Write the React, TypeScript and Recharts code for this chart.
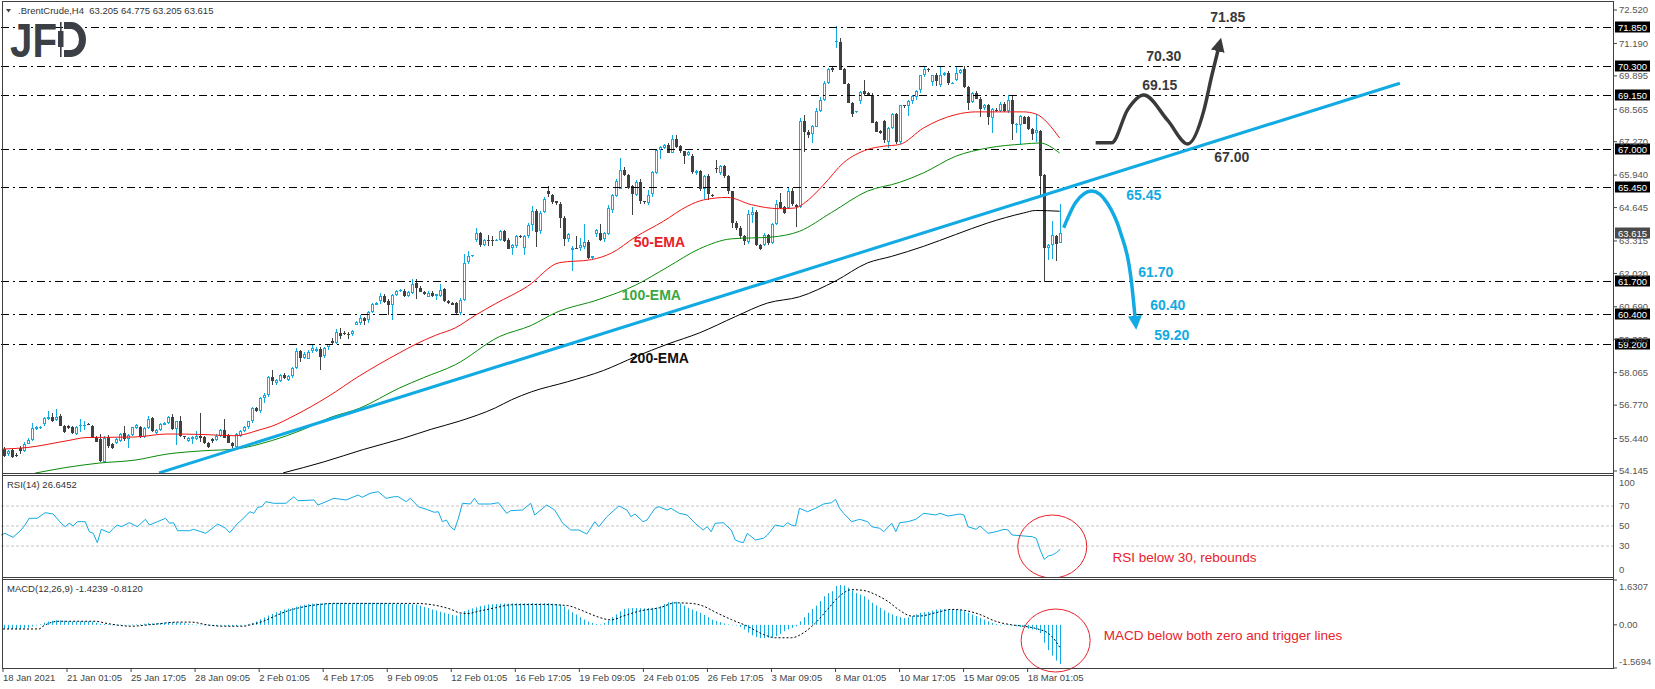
import React from "react";
import { ComposedChart, Bar, Line, XAxis, YAxis, ReferenceLine, ReferenceDot } from "recharts";

const FONT = "Tahoma, 'Liberation Sans', Arial, sans-serif";
const CYAN = "#12aae2";
const DARK = "#404040";
const ARROW_DARK = "#3a3a3a";

// ---- candles (H4 bars, 18 Jan 2021 09:05 .. 19 Mar 2021 09:05) ----
const opens = [
  55.02, 54.85, 54.98, 54.80, 55.08, 54.95, 55.24, 55.38, 55.82, 55.83,
  56.01, 56.25, 56.31, 56.21, 56.35, 55.94, 55.94, 55.88, 55.64, 55.94,
  55.97, 56.02, 55.94, 55.51, 55.42, 54.53, 55.51, 55.22, 55.28, 55.35,
  55.64, 55.42, 55.58, 55.86, 55.91, 55.51, 55.86, 56.25, 55.68, 55.79,
  56.01, 56.07, 56.31, 55.82, 56.12, 55.52, 55.35, 55.42, 55.42, 55.55,
  55.51, 55.28, 55.44, 55.38, 55.55, 55.79, 55.58, 55.28, 55.11, 55.55,
  55.72, 55.88, 56.12, 56.65, 56.52, 57.05, 57.18, 57.89, 57.66, 57.75,
  57.99, 57.79, 57.93, 58.26, 58.92, 58.66, 58.63, 58.90, 58.94, 59.02,
  58.71, 59.06, 59.32, 59.26, 59.64, 59.64, 59.62, 59.59, 59.99, 60.05,
  60.25, 60.15, 60.48, 60.78, 60.92, 61.12, 60.92, 60.76, 61.16, 61.31,
  61.31, 61.12, 61.25, 61.65, 61.45, 61.29, 61.08, 61.25, 61.12, 61.12,
  61.38, 60.92, 60.85, 60.85, 60.45, 60.98, 62.48, 62.72, 63.37, 63.64,
  63.17, 63.37, 63.37, 63.35, 63.37, 63.71, 63.37, 63.02, 63.11, 63.51,
  63.04, 63.51, 63.96, 64.52, 63.70, 64.47, 65.29, 65.16, 64.89, 64.80,
  64.23, 63.39, 62.97, 63.05, 63.01, 63.06, 63.26, 62.63, 63.59, 63.63,
  63.37, 63.59, 64.52, 65.13, 65.42, 66.16, 65.96, 65.49, 65.16, 65.66,
  64.89, 64.85, 65.16, 66.05, 66.95, 67.05, 67.15, 66.85, 67.39, 67.09,
  66.89, 66.75, 66.69, 66.02, 66.09, 65.36, 65.89, 65.16, 66.22, 66.02,
  66.29, 65.89, 65.29, 64.03, 63.83, 63.50, 63.30, 64.36, 64.47, 63.17,
  63.17, 63.56, 63.23, 63.99, 64.85, 64.67, 64.63, 65.29, 64.76, 64.69,
  68.11, 67.66, 67.58, 67.89, 68.51, 68.95, 69.61, 70.19, 71.25, 71.25,
  70.15, 69.57, 68.82, 68.45, 68.88, 69.28, 69.22, 69.15, 68.05, 67.69,
  68.09, 67.26, 67.82, 68.38, 67.26, 68.72, 68.68, 68.88, 69.08, 69.31,
  69.92, 70.15, 69.65, 69.92, 69.55, 69.92, 70.01, 69.61, 69.75, 70.01,
  70.15, 69.44, 68.88, 69.22, 68.99, 68.59, 68.72, 68.25, 68.55, 68.51,
  68.78, 68.51, 68.95, 67.95, 67.95, 68.25, 68.25, 67.79, 67.65, 67.69,
  65.93, 63.01, 63.14, 63.50, 63.205,
];
const highs = [
  55.10, 55.00, 55.02, 54.85, 55.15, 55.30, 55.45, 56.05, 55.92, 55.92,
  56.30, 56.55, 56.45, 56.61, 56.40, 55.98, 55.98, 55.92, 55.95, 56.20,
  56.15, 56.04, 55.98, 55.55, 55.60, 55.55, 55.58, 55.25, 55.45, 55.66,
  55.95, 55.62, 55.90, 56.02, 55.95, 55.90, 56.32, 56.28, 55.82, 56.05,
  56.10, 56.35, 56.40, 56.15, 56.32, 55.55, 55.50, 55.55, 55.75, 56.44,
  55.55, 55.32, 55.48, 55.62, 55.82, 56.21, 55.62, 55.32, 55.65, 55.78,
  55.92, 56.15, 56.70, 56.68, 57.10, 57.25, 57.95, 58.19, 57.82, 58.00,
  58.05, 57.97, 58.30, 59.05, 58.98, 58.88, 58.95, 59.15, 59.10, 59.10,
  59.10, 59.22, 59.45, 59.80, 59.85, 59.72, 59.68, 59.78, 60.12, 60.35,
  60.30, 60.52, 60.85, 60.88, 61.25, 61.20, 61.02, 61.20, 61.35, 61.40,
  61.38, 61.30, 61.78, 61.78, 61.50, 61.32, 61.30, 61.30, 61.22, 61.58,
  61.42, 60.96, 60.88, 60.90, 61.05, 62.78, 62.90, 62.76, 63.84, 63.68,
  63.40, 63.55, 63.50, 63.40, 63.75, 63.74, 63.42, 63.20, 63.55, 63.55,
  63.55, 64.05, 64.70, 64.60, 64.50, 65.05, 65.52, 65.20, 64.92, 64.85,
  64.30, 63.65, 63.10, 63.50, 63.45, 63.99, 63.35, 62.72, 63.80, 63.99,
  63.68, 64.76, 65.20, 65.80, 66.62, 66.25, 66.00, 65.55, 65.75, 65.80,
  64.92, 65.35, 66.10, 67.00, 67.10, 67.18, 67.20, 67.52, 67.55, 67.12,
  66.92, 66.90, 66.80, 66.16, 66.15, 65.95, 66.00, 65.20, 66.55, 66.35,
  66.35, 65.95, 65.32, 64.10, 63.90, 63.55, 64.55, 64.65, 64.55, 63.20,
  63.62, 63.60, 64.05, 64.95, 65.23, 64.70, 65.42, 65.42, 64.80, 68.20,
  68.35, 67.72, 67.95, 68.60, 69.05, 69.70, 70.20, 70.25, 71.87, 71.41,
  70.20, 69.60, 68.85, 68.50, 69.30, 69.75, 69.25, 69.20, 68.10, 67.72,
  68.15, 67.85, 68.40, 68.42, 68.75, 68.75, 68.92, 69.15, 69.35, 69.95,
  70.25, 70.20, 69.95, 70.00, 70.28, 70.05, 70.10, 69.65, 70.28, 70.15,
  70.28, 69.50, 69.25, 69.28, 69.05, 68.78, 68.78, 68.62, 68.62, 68.85,
  68.85, 69.15, 69.10, 68.02, 68.35, 68.28, 68.30, 67.82, 68.38, 67.75,
  66.00, 63.20, 64.10, 63.55, 64.775,
];
const lows = [
  54.70, 54.75, 54.68, 54.68, 54.85, 54.90, 55.20, 55.35, 55.78, 55.80,
  55.95, 56.20, 56.08, 56.15, 55.92, 55.68, 55.82, 55.60, 55.60, 55.68,
  55.78, 55.97, 55.45, 55.30, 54.50, 54.48, 55.08, 55.00, 55.22, 55.30,
  55.35, 55.08, 55.55, 55.82, 55.48, 55.45, 55.82, 55.70, 55.62, 55.75,
  55.98, 56.02, 55.78, 55.18, 55.48, 55.45, 55.30, 55.22, 55.40, 55.28,
  55.25, 55.08, 55.30, 55.35, 55.50, 55.45, 55.25, 55.10, 55.05, 55.50,
  55.68, 55.85, 56.05, 56.48, 56.45, 56.85, 57.10, 57.59, 57.60, 57.70,
  57.80, 57.75, 57.88, 58.22, 58.50, 58.62, 58.58, 58.85, 58.90, 58.19,
  58.68, 59.00, 59.22, 59.19, 59.40, 59.55, 59.40, 59.55, 59.95, 59.95,
  59.98, 60.05, 60.45, 60.76, 60.80, 60.85, 60.40, 60.15, 61.10, 61.28,
  61.05, 61.08, 61.20, 61.00, 61.25, 61.18, 61.05, 61.08, 60.98, 61.08,
  60.85, 60.82, 60.75, 60.40, 60.38, 60.92, 62.40, 62.70, 63.30, 63.10,
  63.12, 63.10, 63.12, 63.33, 63.33, 63.28, 63.00, 62.77, 63.05, 63.45,
  62.77, 63.45, 63.70, 63.10, 63.60, 64.40, 65.10, 64.80, 64.75, 63.83,
  63.10, 63.30, 62.10, 63.00, 62.95, 63.00, 62.60, 62.60, 63.50, 63.30,
  63.30, 63.55, 64.45, 65.10, 65.38, 65.90, 65.40, 64.36, 65.10, 64.80,
  64.80, 64.75, 65.05, 66.00, 66.60, 67.00, 66.80, 66.80, 67.05, 66.80,
  66.40, 66.70, 66.02, 65.95, 65.30, 65.00, 64.96, 65.10, 66.02, 65.95,
  65.85, 65.20, 63.85, 63.75, 63.40, 63.17, 63.20, 64.00, 63.10, 62.95,
  63.10, 63.15, 63.20, 63.95, 64.60, 64.38, 64.58, 64.72, 63.90, 64.62,
  66.89, 67.40, 67.22, 67.85, 68.45, 68.90, 69.55, 70.05, 71.01, 70.15,
  69.55, 68.80, 68.25, 68.44, 68.80, 69.10, 69.10, 68.05, 67.66, 67.55,
  67.25, 67.02, 67.78, 67.20, 67.20, 68.62, 68.30, 68.80, 68.95, 69.25,
  69.85, 70.05, 69.50, 69.50, 69.45, 69.88, 69.55, 69.58, 69.70, 69.95,
  69.40, 68.55, 68.80, 68.95, 68.25, 68.55, 67.95, 67.62, 68.45, 68.45,
  68.45, 68.45, 67.35, 67.62, 67.15, 67.95, 67.75, 67.35, 67.25, 65.16,
  61.70, 62.57, 62.60, 62.50, 63.205,
];
const closes = [
  54.75, 54.95, 54.71, 54.75, 54.98, 55.24, 55.38, 55.86, 55.88, 55.88,
  56.25, 56.31, 56.17, 56.31, 55.94, 55.72, 55.88, 55.64, 55.91, 55.99,
  55.99, 55.99, 55.48, 55.32, 54.55, 55.48, 55.15, 55.08, 55.42, 55.62,
  55.42, 55.58, 55.88, 55.99, 55.51, 55.86, 56.21, 55.75, 55.79, 56.01,
  56.07, 56.31, 55.82, 56.12, 55.52, 55.48, 55.48, 55.51, 55.55, 55.48,
  55.28, 55.12, 55.38, 55.55, 55.79, 55.48, 55.28, 55.15, 55.62, 55.75,
  55.88, 56.12, 56.65, 56.52, 57.05, 57.18, 57.90, 57.75, 57.79, 57.97,
  57.86, 57.93, 58.26, 58.92, 58.66, 58.82, 58.90, 59.03, 59.02, 58.71,
  59.03, 59.19, 59.26, 59.68, 59.52, 59.59, 59.59, 59.72, 60.09, 60.25,
  60.12, 60.48, 60.81, 60.85, 61.12, 60.89, 60.76, 61.16, 61.31, 61.35,
  61.12, 61.27, 61.61, 61.45, 61.29, 61.21, 61.25, 61.12, 61.21, 61.34,
  60.92, 60.85, 60.78, 60.45, 60.98, 62.44, 62.71, 62.74, 63.64, 63.17,
  63.35, 63.35, 63.35, 63.37, 63.71, 63.31, 63.02, 63.15, 63.51, 63.49,
  63.51, 63.95, 64.52, 63.70, 64.43, 64.99, 65.16, 64.87, 64.80, 64.23,
  63.41, 63.60, 63.03, 63.03, 63.14, 63.26, 62.63, 62.70, 63.74, 63.37,
  63.62, 64.63, 65.13, 65.72, 66.16, 65.96, 65.45, 65.16, 65.66, 64.89,
  64.87, 65.16, 66.05, 66.95, 67.05, 67.15, 66.85, 67.39, 67.09, 66.89,
  66.69, 66.85, 66.06, 66.09, 65.36, 65.89, 65.16, 65.13, 66.18, 66.29,
  65.89, 65.29, 64.03, 63.83, 63.50, 63.30, 64.40, 64.47, 63.17, 63.03,
  63.56, 63.23, 63.99, 64.79, 64.63, 64.43, 65.29, 64.79, 64.69, 68.11,
  67.69, 67.55, 67.89, 68.51, 68.95, 69.61, 70.15, 70.11, 71.27, 70.15,
  69.57, 68.82, 68.38, 68.48, 69.24, 69.15, 69.12, 68.05, 67.66, 67.61,
  67.32, 67.82, 68.38, 67.26, 68.72, 68.68, 68.88, 69.08, 69.31, 69.92,
  70.15, 70.11, 69.92, 69.68, 69.95, 70.01, 69.61, 69.62, 70.01, 70.11,
  69.44, 68.82, 69.22, 68.99, 68.59, 68.72, 68.25, 68.59, 68.51, 68.78,
  68.51, 68.95, 67.98, 67.98, 68.29, 67.98, 67.79, 67.58, 67.75, 65.89,
  63.01, 63.14, 63.54, 63.20, 63.615,
];

// moving averages, read at points along each curve [bar, price]
const ema50Pts = [
  [0, 55.02], [6, 55.08], [16, 55.35], [21, 55.48], [33, 55.5], [41, 55.62], [50, 55.6], [58, 55.55],
  [62, 55.68], [64, 55.78], [67, 55.92], [73, 56.37], [81, 57.09], [89, 57.93], [99, 58.85], [103, 59.19],
  [108, 59.55], [113, 59.85], [118, 60.35], [123, 60.81], [131, 61.5], [139, 62.45], [147, 62.57],
  [152, 62.83], [158, 63.47], [165, 64.1], [171, 64.7], [175, 64.95], [181, 65.05], [187, 64.76],
  [194, 64.6], [198, 64.63], [200, 64.8], [205, 65.55], [210, 66.43], [216, 66.96], [220, 67.09],
  [224, 67.16], [230, 67.82], [238, 68.35], [243, 68.46], [255, 68.46], [258, 68.38], [264, 67.42],
];
const ema100Pts = [
  [8, 54.06], [16, 54.29], [24, 54.46], [33, 54.58], [41, 54.82], [50, 54.95], [58, 55.02], [67, 55.35],
  [75, 55.8], [82, 56.29], [89, 56.64], [99, 57.45], [105, 57.86], [113, 58.38], [124, 59.5], [132, 59.95],
  [138, 60.45], [149, 60.99], [158, 61.55], [166, 62.27], [174, 63.0], [182, 63.4], [192, 63.47],
  [199, 63.7], [207, 64.45], [216, 65.3], [224, 65.65], [230, 66.03], [238, 66.69], [246, 67.02],
  [255, 67.18], [259, 67.22], [264, 66.82],
];
const ema200Pts = [
  [70, 54.07], [80, 54.5], [90, 55.0], [100, 55.45], [107, 55.81], [114, 56.13], [123, 56.66], [127, 56.98],
  [132, 57.3], [141, 57.7], [150, 58.15], [158, 58.7], [166, 59.2], [174, 59.65], [183, 60.3], [191, 60.84],
  [199, 61.09], [208, 61.72], [216, 62.44], [222, 62.7], [230, 63.1], [238, 63.57], [246, 64.03],
  [255, 64.43], [258, 64.53], [264, 64.5],
];
const trendPts = [[39, 54.07], [349, 69.6]];
const bullPathPts = [[273, 67.23], [277, 67.23], [281, 68.55], [285, 69.13], [291, 68.12], [296, 67.18], [300, 68.5], [302, 69.9], [304, 71.2]];
const bearPathPts = [[265, 63.84], [268, 64.85], [272, 65.31], [276, 64.8], [279, 63.75], [282, 61.6], [283, 60.0]];

const levels = [71.85, 70.3, 69.15, 67.0, 65.45, 61.7, 60.4, 59.2];
const lastPrice = 63.615;
const priceTicks = [72.52, 71.19, 69.895, 68.565, 67.27, 65.94, 64.645, 63.315, 62.02, 60.69, 59.395, 58.065, 56.77, 55.44, 54.145];

// RSI(14) [bar, value]
const rsiPts = [
  [0, 41], [1, 42.7], [3, 38.7], [5, 46], [6, 51], [7, 57.7], [9, 57.7], [11, 63.3], [13, 62], [15, 52.7],
  [16, 49.3], [17, 52.7], [18, 50], [19, 54.3], [21, 54.3], [22, 44.3], [23, 42.7], [24, 33.3], [25, 46.7],
  [27, 43.3], [28, 47.7], [29, 51], [30, 49.3], [32, 53.3], [34, 49.3], [36, 56.7], [37, 51], [39, 54.3],
  [41, 57.7], [42, 52.7], [43, 53.3], [44, 45.3], [47, 45.3], [48, 46.7], [51, 42.7], [53, 48.7], [54, 52],
  [56, 47.7], [57, 43.3], [59, 52.7], [60, 56], [62, 64.3], [63, 62.7], [64, 68.7], [65, 69.3], [66, 74.3],
  [68, 72.7], [71, 72.7], [73, 79.3], [74, 75.3], [78, 76], [79, 71], [81, 74.3], [83, 77.7], [86, 76],
  [89, 81], [90, 78.7], [92, 82.7], [94, 84.3], [96, 77.7], [98, 79.3], [99, 79.3], [101, 74.3], [102, 77.7],
  [104, 69.3], [106, 66.7], [108, 63.7], [109, 64.3], [110, 54.3], [111, 56], [112, 49.3], [113, 46],
  [114, 57.7], [115, 72.7], [117, 72], [118, 77.7], [119, 72], [122, 72], [124, 73.3], [126, 62.7],
  [127, 65.3], [130, 66], [132, 72.7], [133, 61], [136, 71], [138, 66], [140, 52.7], [142, 46], [144, 46],
  [146, 42], [148, 54.3], [149, 49.3], [151, 59.3], [154, 70], [156, 66], [157, 59.3], [158, 62], [160, 54.3],
  [161, 56], [163, 67.7], [164, 69.3], [166, 66], [167, 67.7], [169, 62.7], [171, 61], [173, 52.7], [175, 46],
  [176, 49.3], [177, 44.3], [178, 52.7], [180, 53.3], [182, 46], [183, 36], [184, 34.3], [185, 33.3],
  [186, 42.7], [188, 36], [190, 37.7], [191, 41], [193, 51], [195, 49.3], [196, 53.3], [197, 51], [198, 50],
  [199, 67.7], [201, 64.3], [203, 67.7], [205, 72], [207, 73.3], [208, 76.7], [209, 67.7], [210, 62.7],
  [212, 54.3], [214, 56.7], [216, 54.3], [217, 49.3], [219, 47.7], [220, 44.3], [222, 52.7], [223, 44.3],
  [224, 53.3], [226, 54.3], [228, 56.7], [230, 62.7], [233, 61], [234, 62.7], [236, 60], [239, 62], [240, 61],
  [241, 49.3], [243, 46.7], [244, 50], [246, 42.7], [248, 44.3], [250, 46.7], [251, 46], [252, 41], [255, 40],
  [257, 39.3], [258, 37.7], [259, 26], [260, 16.7], [261, 20], [262, 21], [263, 23.3], [264, 26.6452],
];

// MACD(12,26,9) main line (histogram) per bar
const macdHist = [
  -0.14, -0.15, -0.15, -0.16, -0.14, -0.12, -0.10, -0.06, -0.02, 0.02,
  0.08, 0.12, 0.15, 0.17, 0.16, 0.15, 0.13, 0.12, 0.12, 0.13,
  0.13, 0.13, 0.11, 0.08, 0.04, 0.03, 0.02, 0.00, 0.00, 0.01,
  0.00, 0.00, 0.01, 0.02, 0.02, 0.04, 0.06, 0.05, 0.06, 0.07,
  0.08, 0.10, 0.09, 0.09, 0.08, 0.06, 0.04, 0.02, 0.00, -0.01,
  -0.02, -0.03, -0.04, -0.04, -0.03, -0.03, -0.04, -0.05, -0.04, -0.02,
  0.00, 0.03, 0.07, 0.12, 0.20, 0.27, 0.34, 0.40, 0.46, 0.51,
  0.56, 0.59, 0.62, 0.66, 0.70, 0.73, 0.76, 0.77, 0.78, 0.78,
  0.79, 0.79, 0.79, 0.80, 0.80, 0.80, 0.79, 0.79, 0.80, 0.80,
  0.80, 0.80, 0.80, 0.80, 0.80, 0.79, 0.78, 0.78, 0.77, 0.77,
  0.76, 0.76, 0.75, 0.74, 0.70, 0.65, 0.61, 0.56, 0.52, 0.48,
  0.44, 0.40, 0.36, 0.34, 0.40, 0.50, 0.55, 0.60, 0.64, 0.68,
  0.71, 0.74, 0.75, 0.76, 0.77, 0.77, 0.77, 0.78, 0.78, 0.78,
  0.78, 0.78, 0.79, 0.78, 0.78, 0.79, 0.79, 0.77, 0.76, 0.74,
  0.66, 0.56, 0.46, 0.38, 0.28, 0.19, 0.12, 0.07, 0.03, 0.01,
  0.07, 0.16, 0.28, 0.38, 0.49, 0.58, 0.60, 0.61, 0.61, 0.60,
  0.60, 0.61, 0.62, 0.63, 0.68, 0.75, 0.82, 0.84, 0.84, 0.78,
  0.70, 0.62, 0.56, 0.50, 0.44, 0.36, 0.28, 0.19, 0.14, 0.10,
  0.05, 0.02, 0.00, -0.02, -0.08, -0.17, -0.28, -0.38, -0.45, -0.48,
  -0.48, -0.47, -0.45, -0.41, -0.33, -0.23, -0.17, -0.11, -0.05, 0.13,
  0.28, 0.44, 0.58, 0.70, 0.87, 1.04, 1.15, 1.22, 1.41, 1.45,
  1.43, 1.35, 1.25, 1.16, 1.10, 1.04, 0.92, 0.80, 0.71, 0.62,
  0.53, 0.44, 0.38, 0.32, 0.28, 0.25, 0.27, 0.32, 0.38, 0.44,
  0.46, 0.47, 0.52, 0.56, 0.57, 0.57, 0.56, 0.56, 0.56, 0.55,
  0.50, 0.44, 0.38, 0.32, 0.25, 0.19, 0.13, 0.07, 0.03, 0.00,
  0.01, 0.01, -0.02, -0.05, -0.08, -0.11, -0.14, -0.17, -0.19, -0.30,
  -0.65, -0.92, -1.12, -1.30, -1.4239,
];
// signal line [bar, value]
const signalPts = [
  [0, -0.15], [9, -0.15], [10, -0.05], [14, 0.13], [23, 0.13], [26, 0.05], [32, -0.05], [37, 0.01], [44, 0.1],
  [47, 0.1], [51, 0], [55, -0.05], [60, -0.05], [62, 0.01], [65, 0.13], [68, 0.32], [71, 0.5], [74, 0.62],
  [79, 0.74], [83, 0.78], [103, 0.78], [109, 0.68], [112, 0.56], [114, 0.44], [116, 0.41], [119, 0.5],
  [123, 0.62], [127, 0.73], [135, 0.74], [141, 0.7], [144, 0.56], [147, 0.38], [149, 0.27], [152, 0.18],
  [155, 0.32], [159, 0.5], [164, 0.62], [168, 0.8], [172, 0.78], [175, 0.68], [178, 0.46], [182, 0.19],
  [186, -0.05], [190, -0.35], [193, -0.47], [197, -0.47], [200, -0.29], [203, 0.07], [206, 0.56], [209, 1.04],
  [212, 1.28], [215, 1.25], [218, 1.1], [221, 0.86], [224, 0.53], [227, 0.32], [229, 0.32], [233, 0.44],
  [237, 0.56], [240, 0.53], [244, 0.38], [248, 0.13], [252, 0.0], [255, -0.05], [259, -0.17], [261, -0.29],
  [263, -0.59], [264, -0.812],
];

const timeLabels = [
  "18 Jan 2021", "21 Jan 01:05", "25 Jan 17:05", "28 Jan 09:05", "2 Feb 01:05", "4 Feb 17:05",
  "9 Feb 09:05", "12 Feb 01:05", "16 Feb 17:05", "19 Feb 09:05", "24 Feb 01:05", "26 Feb 17:05",
  "3 Mar 09:05", "8 Mar 01:05", "10 Mar 17:05", "15 Mar 09:05", "18 Mar 01:05",
];
const BARS_PER_LABEL = 16;
const SLOTS = 403; // visible bar slots incl. empty right-hand space

type Row = { i: number; [k: string]: any };
const rows: Row[] = [];
for (let i = 0; i < SLOTS; i++) rows.push({ i });
closes.forEach((c, i) => {
  const r = rows[i];
  r.o = opens[i];
  r.h = highs[i];
  r.l = lows[i];
  r.c = c;
  r.hl = [lows[i], highs[i]];
  r.macd = macdHist[i];
});
const place = (pts: number[][], key: string) => pts.forEach(([i, v]) => { rows[i][key] = v; });
place(ema50Pts, "ema50");
place(ema100Pts, "ema100");
place(ema200Pts, "ema200");
place(trendPts, "trend");
place(bullPathPts, "bullPath");
place(bearPathPts, "bearPath");
place(rsiPts, "rsi");
place(signalPts, "signal");

const tickIdx = timeLabels.map((_, k) => k * BARS_PER_LABEL);

function Candle(props: any) {
  const { x, y, width, height, payload } = props;
  if (!payload || payload.c == null || !isFinite(y) || !isFinite(height)) return <g />;
  const top = Math.min(y, y + height);
  const span = Math.abs(height);
  const k = payload.h > payload.l ? span / (payload.h - payload.l) : 0;
  const c = Math.round(x + width / 2);
  const yO = top + (payload.h - payload.o) * k;
  const yC = top + (payload.h - payload.c) * k;
  const bull = payload.c >= payload.o;
  const color = bull ? CYAN : DARK;
  const bt = Math.round(Math.min(yO, yC));
  const bh = Math.max(1, Math.round(Math.abs(yC - yO)));
  return (
    <g>
      <rect x={c} y={Math.round(top)} width={1} height={Math.max(1, Math.round(span))} fill={color} />
      {bull && bh > 2 ? (
        <rect x={c - 0.5} y={bt + 0.5} width={2} height={bh - 1} fill="#fff" stroke={color} strokeWidth={1} />
      ) : (
        <rect x={c - 1} y={bt} width={3} height={bh} fill={color} />
      )}
    </g>
  );
}

function HistBar(props: any) {
  const { x, y, width, height } = props;
  if (!isFinite(y) || !isFinite(height)) return <g />;
  const c = Math.round(x + width / 2);
  return <rect x={c} y={Math.min(y, y + height)} width={1} height={Math.max(0.5, Math.abs(height))} fill={CYAN} />;
}

function LevelLine(props: any) {
  const { x1, x2, y1, tag, bg, showLine } = props;
  if (x1 == null || y1 == null) return <g />;
  const y = Math.round(y1) + 0.5;
  const left = Math.min(x1, x2);
  const right = Math.max(x1, x2);
  return (
    <g>
      {showLine && <line x1={left} x2={right} y1={y} y2={y} stroke="#000" strokeWidth={1} strokeDasharray="8 4 2 4" />}
      <rect x={right + 1} y={y - 6} width={35} height={11} fill={bg} />
      <text x={right + 4} y={y + 3.5} fill="#fff" fontSize={9.5} fontFamily={FONT}>{tag}</text>
    </g>
  );
}

function RightTick(props: any) {
  const { x, y, payload, fmt, shift } = props;
  const v = payload.value;
  const dy = shift ? shift(v) : 0;
  return (
    <text x={x} y={y + dy} dy="0.35em" fontSize={9.5} fill="#555" fontFamily={FONT} textAnchor="start">
      {fmt(v)}
    </text>
  );
}

function TimeTick(props: any) {
  const { x, y, payload } = props;
  const k = tickIdx.indexOf(payload.value);
  return (
    <text x={x} y={y} dy="0.71em" fontSize={9.5} fill="#444" fontFamily={FONT} textAnchor="start">
      {k >= 0 ? timeLabels[k] : ""}
    </text>
  );
}

const annText = (text: string, color: string, size: number, weight: number, anchor = "middle") =>
  (p: any) => (
    <text x={p.cx} y={p.cy} dy="0.35em" textAnchor={anchor} fill={color} fontSize={size} fontWeight={weight} fontFamily={FONT}>
      {text}
    </text>
  );

const ellipse = (p: any) => <ellipse cx={p.cx} cy={p.cy} rx={34.5} ry={31.5} fill="none" stroke="#e8222a" strokeWidth={1} />;

const frame = "#3f3f3f";
const hLine = (top: number) => (
  <div style={{ position: "absolute", left: 2, top, width: 1612, height: 1, background: frame }} />
);

export default function App() {
  return (
    <div style={{ position: "absolute", left: 0, top: 0, width: 1655, height: 689, background: "#fff", overflow: "hidden", fontFamily: FONT }}>
      {/* price panel */}
      <div style={{ position: "absolute", left: 0, top: 0 }}>
        <ComposedChart width={1655} height={476} data={rows} margin={{ top: 2, right: 0, bottom: 3, left: 1 }}>
          <defs>
            <marker id="arrDark" viewBox="0 0 10 10" refX="6" refY="5" markerWidth="4" markerHeight="4.2" orient="auto" markerUnits="strokeWidth">
              <path d="M0,0 L10,5 L0,10 z" fill={ARROW_DARK} />
            </marker>
            <marker id="arrBlue" viewBox="0 0 10 10" refX="6" refY="5" markerWidth="4" markerHeight="4.2" orient="auto" markerUnits="strokeWidth">
              <path d="M0,0 L10,5 L0,10 z" fill={CYAN} />
            </marker>
          </defs>
          <XAxis dataKey="i" hide />
          <YAxis
            orientation="right"
            width={41}
            domain={[54.065, 72.84]}
            allowDataOverflow
            ticks={priceTicks}
            interval={0}
            axisLine={false}
            tickLine={{ stroke: "#444" }}
            tickSize={3}
            tickMargin={2}
            tick={<RightTick fmt={(v: number) => v.toFixed(3)} />}
          />
          {levels.map((lv) => (
            <ReferenceLine key={lv} y={lv} shape={(p: any) => <LevelLine {...p} tag={lv.toFixed(3)} bg="#000" showLine />} />
          ))}
          <ReferenceLine y={lastPrice} shape={(p: any) => <LevelLine {...p} tag={lastPrice.toFixed(3)} bg="#4a4a4a" showLine={false} />} />
          <Line dataKey="ema200" type="monotone" stroke="#000" strokeWidth={1} dot={false} activeDot={false} connectNulls isAnimationActive={false} />
          <Line dataKey="ema100" type="monotone" stroke="#0a8a0a" strokeWidth={1} dot={false} activeDot={false} connectNulls isAnimationActive={false} />
          <Line dataKey="ema50" type="monotone" stroke="#f01414" strokeWidth={1} dot={false} activeDot={false} connectNulls isAnimationActive={false} />
          <Line dataKey="trend" type="linear" stroke={CYAN} strokeWidth={3} dot={false} activeDot={false} connectNulls isAnimationActive={false} />
          <Bar dataKey="hl" barSize={3} shape={Candle} isAnimationActive={false} />
          <Line dataKey="bullPath" type="monotone" stroke={ARROW_DARK} strokeWidth={3.5} dot={false} activeDot={false} connectNulls markerEnd="url(#arrDark)" isAnimationActive={false} />
          <Line dataKey="bearPath" type="monotone" stroke={CYAN} strokeWidth={3.5} dot={false} activeDot={false} connectNulls markerEnd="url(#arrBlue)" isAnimationActive={false} />
          <ReferenceDot x={306} y={72.25} r={1} shape={annText("71.85", "#3a3a3a", 14, 700)} />
          <ReferenceDot x={290} y={70.69} r={1} shape={annText("70.30", "#3a3a3a", 14, 700)} />
          <ReferenceDot x={289} y={69.53} r={1} shape={annText("69.15", "#3a3a3a", 14, 700)} />
          <ReferenceDot x={307} y={66.66} r={1} shape={annText("67.00", "#3a3a3a", 14, 700)} />
          <ReferenceDot x={285} y={65.15} r={1} shape={annText("65.45", CYAN, 14, 700)} />
          <ReferenceDot x={288} y={62.08} r={1} shape={annText("61.70", CYAN, 14, 700)} />
          <ReferenceDot x={291} y={60.76} r={1} shape={annText("60.40", CYAN, 14, 700)} />
          <ReferenceDot x={292} y={59.57} r={1} shape={annText("59.20", CYAN, 14, 700)} />
          <ReferenceDot x={164} y={63.25} r={1} shape={annText("50-EMA", "#e8202a", 14, 700)} />
          <ReferenceDot x={162} y={61.16} r={1} shape={annText("100-EMA", "#3aa843", 14, 700)} />
          <ReferenceDot x={164} y={58.65} r={1} shape={annText("200-EMA", "#111", 14, 700)} />
        </ComposedChart>
      </div>

      {/* RSI panel */}
      <div style={{ position: "absolute", left: 0, top: 476 }}>
        <ComposedChart width={1655} height={102} data={rows} margin={{ top: 0, right: 0, bottom: 2, left: 1 }}>
          <XAxis dataKey="i" hide />
          <YAxis
            orientation="right"
            width={41}
            domain={[0, 100]}
            ticks={[0, 30, 50, 70, 100]}
            interval={0}
            axisLine={false}
            tickLine={false}
            tickSize={3}
            tickMargin={2}
            tick={<RightTick fmt={(v: number) => String(v)} shift={(v: number) => (v === 100 ? 7 : v === 0 ? -6 : 0)} />}
          />
          {[70, 50, 30].map((v) => (
            <ReferenceLine key={v} y={v} stroke="#c4c4c4" strokeDasharray="3 2" />
          ))}
          <Line dataKey="rsi" type="linear" stroke={CYAN} strokeWidth={1} dot={false} activeDot={false} connectNulls isAnimationActive={false} />
          <ReferenceDot x={262} y={29.5} r={1} shape={ellipse} />
          <ReferenceDot x={277} y={18.7} r={1} shape={annText("RSI below 30, rebounds", "#e8222a", 13.5, 400, "start")} />
        </ComposedChart>
      </div>

      {/* MACD panel */}
      <div style={{ position: "absolute", left: 0, top: 579 }}>
        <ComposedChart width={1655} height={110} data={rows} margin={{ top: 1, right: 0, bottom: 0, left: 1 }}>
          <XAxis
            dataKey="i"
            height={21}
            ticks={tickIdx}
            interval={0}
            axisLine={false}
            tickLine={{ stroke: "#444" }}
            tickSize={4}
            tickMargin={2}
            tick={<TimeTick />}
          />
          <YAxis
            orientation="right"
            width={41}
            domain={[-1.5694, 1.6307]}
            allowDataOverflow
            ticks={[-1.5694, 0, 1.6307]}
            interval={0}
            axisLine={false}
            tickLine={{ stroke: "#444" }}
            tickSize={3}
            tickMargin={2}
            tick={<RightTick fmt={(v: number) => (v === 0 ? "0.00" : v.toFixed(4))} shift={(v: number) => (v > 1 ? 7 : v < -1 ? -6 : 0)} />}
          />
          <Bar dataKey="macd" barSize={1} shape={HistBar} isAnimationActive={false} />
          <Line dataKey="signal" type="monotone" stroke="#000" strokeWidth={1} strokeDasharray="2 2" dot={false} activeDot={false} connectNulls isAnimationActive={false} />
          <ReferenceDot x={263} y={-0.57} r={1} shape={ellipse} />
          <ReferenceDot x={275} y={-0.37} r={1} shape={annText("MACD below both zero and trigger lines", "#e8222a", 13.5, 400, "start")} />
        </ComposedChart>
      </div>

      {/* panel frames */}
      {hLine(1)}
      {hLine(473)}
      {hLine(475)}
      {hLine(577)}
      {hLine(579)}
      {hLine(668)}
      <div style={{ position: "absolute", left: 2, top: 1, width: 1, height: 668, background: frame }} />
      <div style={{ position: "absolute", left: 1613, top: 1, width: 1, height: 668, background: frame }} />

      {/* captions */}
      <svg style={{ position: "absolute", left: 0, top: 0 }} width={100} height={62}>
        <polygon points="6,9 11,9 8.5,12.5" fill="#444" />
        <text x={10} y={57} fontSize={48} fontWeight={700} fill="#3b3f46" fontFamily="'Liberation Sans', Arial, sans-serif" textLength={47} lengthAdjust="spacingAndGlyphs">JF</text>
        <rect x={60} y={22} width={1.6} height={35} fill="#3b3f46" />
        <rect x={58} y={31} width={5.5} height={16} fill="#3b3f46" />
        <path d="M64,22 h7 a15,17.5 0 0 1 0,35 h-7 v-7 h7 a8,10.5 0 0 0 0,-21 h-7 z" fill="#3b3f46" />
      </svg>
      <div style={{ position: "absolute", left: 18, top: 5, fontSize: 9.5, lineHeight: "12px", color: "#333", whiteSpace: "pre" }}>
        {".BrentCrude,H4  63.205 64.775 63.205 63.615"}
      </div>
      <div style={{ position: "absolute", left: 7, top: 479, fontSize: 9.5, lineHeight: "12px", color: "#333", whiteSpace: "pre" }}>
        {"RSI(14) 26.6452"}
      </div>
      <div style={{ position: "absolute", left: 7, top: 583, fontSize: 9.5, lineHeight: "12px", color: "#333", whiteSpace: "pre" }}>
        {"MACD(12,26,9) -1.4239 -0.8120"}
      </div>
    </div>
  );
}
